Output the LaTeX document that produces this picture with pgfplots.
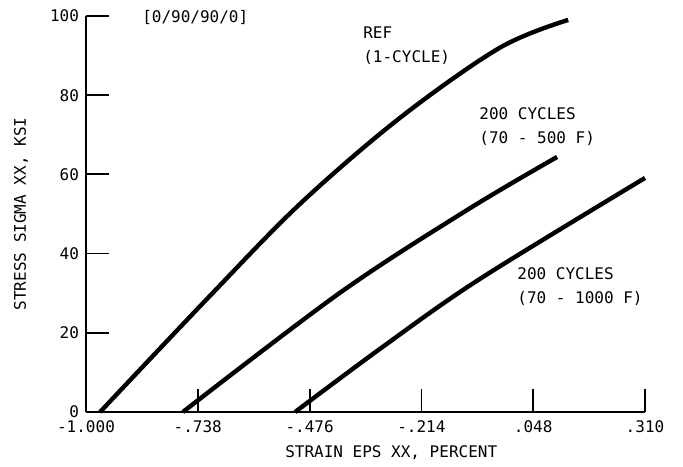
\documentclass[border=0pt]{standalone}
\usepackage{fontspec}
\setmainfont{DejaVu Sans Mono}
\usepackage{pgfplots}
\pgfplotsset{compat=1.18}

\begin{document}
\begin{tikzpicture}
\begin{axis}[
  scale only axis,
  width=279.5pt, height=198pt,
  xmin=-1, xmax=0.31, ymin=0, ymax=100,
  axis lines=left,
  axis line style={-, line width=1pt},
  tick align=inside,
  major tick length=11.5pt,
  tick style={line width=0.9pt, black},
  xtick={-1,-0.738,-0.476,-0.214,0.048,0.31},
  xticklabels={-1.000,-.738,-.476,-.214,.048,.310},
  ytick={0,20,40,60,80,100},
  yticklabels={0,20,40,60,80,100},
  ticklabel style={font=\fontsize{8}{10}\selectfont},
  xticklabel style={yshift=-1pt},
  xlabel={STRAIN EPS XX, PERCENT},
  ylabel={STRESS SIGMA XX, KSI},
  xlabel style={at={(axis description cs:0.546,-0.1035)}, anchor=center, font=\fontsize{8}{10}\selectfont},
  ylabel style={at={(axis description cs:-0.116,0.5)}, anchor=center, font=\fontsize{8}{10}\selectfont},
  clip=false,
]
% REF (1-cycle)
\addplot[black, line width=2.2pt, no marks, smooth, tension=0.55] coordinates {(-0.967,0) (-0.716,28.6) (-0.499,52.5)
  (-0.264,74.3) (-0.030,92.0) (0.130,99.0)};
% 200 cycles, 70 - 500 F
\addplot[black, line width=2.2pt, no marks, smooth, tension=0.55] coordinates {(-0.773,0) (-0.405,30.1)
  (-0.107,51.0) (0.104,64.4)};
% 200 cycles, 70 - 1000 F
\addplot[black, line width=2.2pt, no marks, smooth, tension=0.55] coordinates {(-0.510,0) (-0.304,16.5)
  (-0.077,33.6) (0.310,59.1)};

\begin{scope}[every node/.style={inner sep=0pt, align=left, anchor=west, font=\fontsize{8}{12}\selectfont}]
\node at (axis cs:-0.869,99.7) {[0/90/90/0]};
\node at (axis cs:-0.351,92.6) {REF\\(1-CYCLE)};
\node at (axis cs:-0.079,72.1) {200 CYCLES\\(70 - 500 F)};
\node at (axis cs:0.010,31.6) {200 CYCLES\\(70 - 1000 F)};
\end{scope}
\end{axis}
\path (current axis.south west) ++(-43pt,-27pt) rectangle ([shift={(19pt,8pt)}]current axis.north east);
\end{tikzpicture}
\end{document}
